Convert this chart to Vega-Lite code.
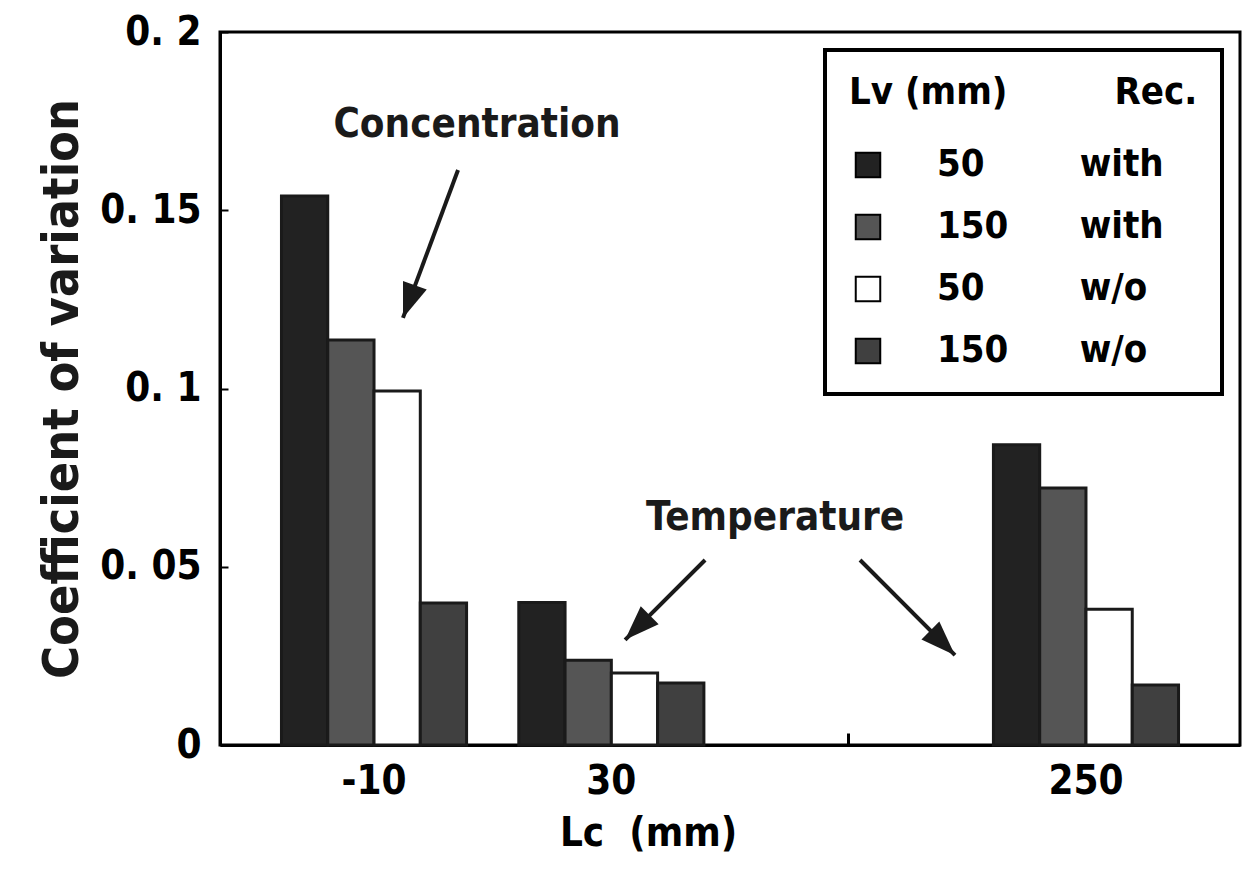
{
  "$schema": "https://vega.github.io/schema/vega-lite/v6.json",
  "width": 1020,
  "height": 713,
  "autosize": {"type": "none"},
  "padding": {"left": 220, "top": 32, "right": 4, "bottom": 144},
  "background": "white",
  "config": {
    "font": "DejaVu Sans Condensed",
    "view": {"stroke": "black", "strokeWidth": 3},
    "legend": {"strokeWidth": 4}
  },
  "datasets": {
    "bars": [
      {"Lc": "-10", "series": "50 with", "cv": 0.154},
      {"Lc": "-10", "series": "150 with", "cv": 0.1136},
      {"Lc": "-10", "series": "50 w/o", "cv": 0.0993},
      {"Lc": "-10", "series": "150 w/o", "cv": 0.0398},
      {"Lc": "30", "series": "50 with", "cv": 0.040},
      {"Lc": "30", "series": "150 with", "cv": 0.0238},
      {"Lc": "30", "series": "50 w/o", "cv": 0.0202},
      {"Lc": "30", "series": "150 w/o", "cv": 0.0174},
      {"Lc": "250", "series": "50 with", "cv": 0.0842},
      {"Lc": "250", "series": "150 with", "cv": 0.0721},
      {"Lc": "250", "series": "50 w/o", "cv": 0.0381},
      {"Lc": "250", "series": "150 w/o", "cv": 0.0168}
    ],
    "notes": [
      {"text": "Concentration", "x": 0.434, "y": 0.1739},
      {"text": "Temperature", "x": 1.69, "y": 0.0637}
    ],
    "arrows": [
      {"id": "c", "x": 0.354, "y": 0.1613, "x2": 0.122, "y2": 0.1198},
      {"id": "t1", "x": 1.395, "y": 0.0519, "x2": 1.058, "y2": 0.0295},
      {"id": "t2", "x": 2.048, "y": 0.0519, "x2": 2.448, "y2": 0.0252}
    ]
  },
  "layer": [
    {
      "data": {"name": "bars"},
      "mark": {"type": "bar", "stroke": "#1a1a1a", "strokeWidth": 3},
      "encoding": {
        "x": {
          "field": "Lc", "type": "nominal",
          "scale": {"domain": ["-10", "30", " ", "250"], "paddingInner": 0.22, "paddingOuter": 0.259},
          "axis": {
            "title": "Lc\u00a0\u00a0(mm)", "labelAngle": 0, "labelFontSize": 40, "labelFontWeight": "bold",
            "labelPadding": 28, "tickSize": -12, "tickColor": "black", "tickWidth": 3,
            "domainColor": "black", "domainWidth": 3, "titleFontSize": 40, "titleFontWeight": "bold",
            "titlePadding": 12, "titleX": 428, "titleColor": "black", "labelColor": "black", "grid": false
          }
        },
        "xOffset": {
          "field": "series", "type": "nominal",
          "scale": {"domain": ["50 with", "150 with", "50 w/o", "150 w/o"], "paddingInner": 0, "paddingOuter": 0}
        },
        "y": {
          "field": "cv", "type": "quantitative",
          "scale": {"domain": [0, 0.2], "nice": false},
          "axis": {
            "title": "Coefficient of variation", "values": [0, 0.05, 0.1, 0.15, 0.2],
            "labelExpr": "replace(format(datum.value,'~g'),'.','. ')",
            "tickSize": -8, "tickColor": "black", "tickWidth": 2, "domainColor": "black", "domainWidth": 3,
            "labelFontSize": 40, "labelFontWeight": "bold", "labelPadding": 27, "labelColor": "black",
            "titleFontSize": 50, "titleFontWeight": "bold", "titlePadding": 12, "titleColor": "#1a1a1a", "grid": false
          }
        },
        "color": {
          "field": "series", "type": "nominal",
          "scale": {"domain": ["50 with", "150 with", "50 w/o", "150 w/o"], "range": ["#222222", "#555555", "#ffffff", "#404040"]},
          "legend": {
            "title": "Lv\u00a0(mm)\u00a0\u00a0\u00a0\u00a0\u00a0\u00a0\u00a0\u00a0\u00a0Rec.",
            "orient": "top-right", "offset": 18, "padding": 24,
            "strokeColor": "black", "fillColor": "white",
            "symbolType": "square", "symbolSize": 600, "symbolStrokeColor": "black", "symbolStrokeWidth": 2,
            "labelFontSize": 38, "labelFontWeight": "bold", "labelColor": "black", "labelLimit": 500,
            "titleFontSize": 38, "titleFontWeight": "bold", "titleColor": "black", "titlePadding": 34, "titleLimit": 500,
            "rowPadding": 24, "labelOffset": 50,
            "labelExpr": "indexof(datum.label, '150') === 0 ? replace(datum.label, ' ', '\u00a0\u00a0\u00a0\u00a0\u00a0\u00a0') : replace(datum.label, ' ', '\u00a0\u00a0\u00a0\u00a0\u00a0\u00a0\u00a0\u00a0')"
          }
        }
      }
    },
    {
      "data": {"name": "notes"},
      "mark": {"type": "text", "fontSize": 40, "fontWeight": "bold", "color": "#1a1a1a", "align": "center", "baseline": "middle"},
      "encoding": {
        "x": {"field": "x", "type": "quantitative", "scale": {"domain": [-0.649, 3.649], "nice": false, "zero": false}, "axis": null},
        "y": {"field": "y", "type": "quantitative"},
        "text": {"field": "text"}
      }
    },
    {
      "data": {"name": "arrows"},
      "mark": {"type": "rule", "strokeWidth": 4, "color": "#1a1a1a"},
      "encoding": {
        "x": {"field": "x", "type": "quantitative", "scale": {"domain": [-0.649, 3.649], "nice": false, "zero": false}, "axis": null},
        "y": {"field": "y", "type": "quantitative"},
        "x2": {"field": "x2"},
        "y2": {"field": "y2"}
      }
    },
    {
      "data": {"name": "arrows"},
      "transform": [{"filter": "datum.id === 'c'"}],
      "mark": {"type": "point", "shape": "M0,0L0.8,2.2L-0.8,2.2Z", "filled": true, "color": "#1a1a1a", "size": 1000, "angle": 200, "opacity": 1},
      "encoding": {
        "x": {"field": "x2", "type": "quantitative", "scale": {"domain": [-0.649, 3.649], "nice": false, "zero": false}, "axis": null},
        "y": {"field": "y2", "type": "quantitative"}
      }
    },
    {
      "data": {"name": "arrows"},
      "transform": [{"filter": "datum.id === 't1'"}],
      "mark": {"type": "point", "shape": "M0,0L0.8,2.2L-0.8,2.2Z", "filled": true, "color": "#1a1a1a", "size": 1000, "angle": 225, "opacity": 1},
      "encoding": {
        "x": {"field": "x2", "type": "quantitative", "scale": {"domain": [-0.649, 3.649], "nice": false, "zero": false}, "axis": null},
        "y": {"field": "y2", "type": "quantitative"}
      }
    },
    {
      "data": {"name": "arrows"},
      "transform": [{"filter": "datum.id === 't2'"}],
      "mark": {"type": "point", "shape": "M0,0L0.8,2.2L-0.8,2.2Z", "filled": true, "color": "#1a1a1a", "size": 1000, "angle": 135, "opacity": 1},
      "encoding": {
        "x": {"field": "x2", "type": "quantitative", "scale": {"domain": [-0.649, 3.649], "nice": false, "zero": false}, "axis": null},
        "y": {"field": "y2", "type": "quantitative"}
      }
    }
  ],
  "resolve": {"scale": {"x": "independent"}, "axis": {"x": "independent"}}
}
